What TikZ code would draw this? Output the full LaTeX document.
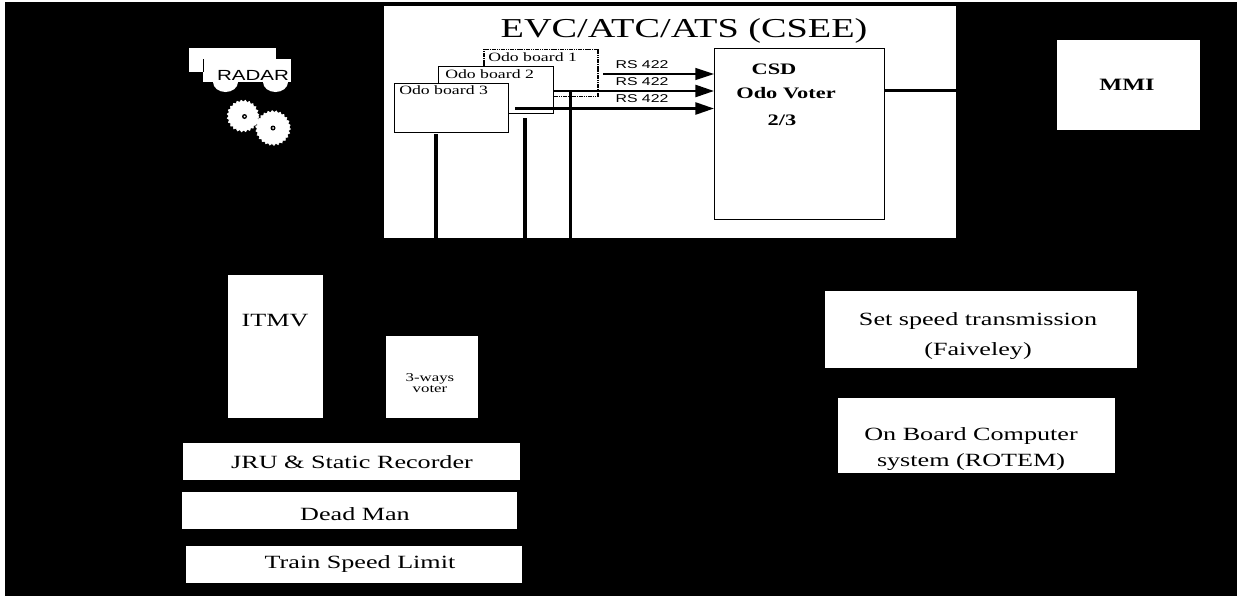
\documentclass[tikz,border=0pt]{standalone}
\usepackage{fontspec}
\setmainfont{Liberation Serif}
\newfontfamily\wideserif[FakeStretch=1.4]{Liberation Serif}
\newfontfamily\widesans[FakeStretch=1.4]{Liberation Sans}
\usetikzlibrary{arrows.meta,decorations.pathmorphing}
\tikzset{
  block/.style={fill=white,draw=none,inner sep=0pt,anchor=north west},
  label/.style={inner sep=0pt,align=center,text=black,font=\wideserif\fontsize{14}{19}\selectfont},
  boardbox/.style={fill=white,draw=black,line width=1pt,inner sep=0pt,anchor=north west},
  boardtext/.style={font=\wideserif\fontsize{9.5}{11}\selectfont,inner sep=0pt,anchor=west,text=black},
  wire/.style={draw=black,line width=2.6pt},
  link/.style={draw=black,line width=1.9pt,-{Triangle[length=14pt,width=9pt]}},
  rs/.style={font=\widesans\fontsize{8.5}{9}\selectfont,inner sep=0pt,text=black},
  voterlabel/.style={inner sep=0pt,align=center,text=black,font=\bfseries\wideserif\fontsize{12}{14}\selectfont},
  gear/.style={fill=white,draw=white,decorate,decoration={zigzag,segment length=3pt,amplitude=0.7pt}},
}
\begin{document}
\begin{tikzpicture}[x=0.75pt,y=-0.75pt]
\useasboundingbox (0,0) rectangle (1237,596);
\fill[white] (0,0) rectangle (1237,596);
\fill[black] (5,2) rectangle (1237,596);
% EVC panel
\node[block,minimum width=572*0.75pt,minimum height=232*0.75pt] (evc) at (384,6) {};
\node[label,font=\wideserif\fontsize{20.5}{24}\selectfont] (evct) at (684,31) {EVC/ATC/ATS (CSEE)};
% boards
\node[boardbox,dash pattern=on 1.2pt off 0.5pt,line width=1.2pt,minimum width=114*0.75pt,minimum height=47*0.75pt] (b1) at (483,48.500) {};
\node[boardtext] (b1t) at (488,57) {Odo board 1};
\node[boardbox,minimum width=115*0.75pt,minimum height=47*0.75pt] (b2) at (438,66) {};
\node[boardtext] (b2t) at (445,74) {Odo board 2};
\node[boardbox,minimum width=114*0.75pt,minimum height=49*0.75pt] (b3) at (394,83) {};
\node[boardtext] (b3t) at (399,90) {Odo board 3};
% CSD
\node[boardbox,line width=1.1pt,minimum width=170*0.75pt,minimum height=171*0.75pt] (csd) at (714,48) {};
\node[voterlabel] (csdt1) at (774,69.500) {CSD};
\node[voterlabel] (csdt2) at (786,93.500) {Odo Voter};
\node[voterlabel] (csdt3) at (782,120) {2/3};
% links to CSD
\coordinate (l1) at (603,74);
\coordinate (l2) at (553,91);
\coordinate (l3) at (515,108.500);
\draw[link,line width=1.1pt] (l1) -- (l1 -| csd.west);
\draw[link] (l2) -- (l2 -| csd.west);
\draw[link] (l3) -- (l3 -| csd.west);
\node[rs] (rs1) at (642,65) {RS 422};
\node[rs] (rs2) at (642,81.500) {RS 422};
\node[rs] (rs3) at (642,99) {RS 422};
% down wires
\coordinate (u3) at (436,134);
\coordinate (u2) at (525,118);
\coordinate (u1) at (570.500,91);
\draw[wire] (u3) -- (u3 |- evc.south);
\draw[wire] (u2) -- (u2 |- evc.south);
\draw[wire] (u1) -- (u1 |- evc.south);
% CSD to right
\coordinate (cr) at (956,90.500);
\draw[draw=black,line width=1.7pt] (csd.east |- cr) -- (cr);
% MMI
\node[block,minimum width=143*0.75pt,minimum height=90*0.75pt] (mmi) at (1057,40) {};
\node[voterlabel,font=\bfseries\wideserif\fontsize{13}{14}\selectfont] (mmit) at (1127,85) {MMI};
% ITMV etc
\node[block,minimum width=95*0.75pt,minimum height=143*0.75pt] (itmvb) at (228,275) {};
\node[label] (itmv) at (275,321) {ITMV};
\node[block,minimum width=92*0.75pt,minimum height=82*0.75pt] (voter) at (386,336) {};
\node[label,font=\wideserif\fontsize{9}{6}\selectfont] (votert) at (430,383) {3-ways\\voter};
\node[block,minimum width=337*0.75pt,minimum height=37*0.75pt] (jru) at (183,443) {};
\node[label] (jrut) at (352,462.500) {JRU \& Static Recorder};
\node[block,minimum width=335*0.75pt,minimum height=37*0.75pt] (dead) at (182,492) {};
\node[label] (deadt) at (355,514) {Dead Man};
\node[block,minimum width=336*0.75pt,minimum height=37*0.75pt] (tsl) at (186,546) {};
\node[label] (tslt) at (360,564) {Train Speed Limit};
% right blocks
\node[block,minimum width=312*0.75pt,minimum height=77*0.75pt] (set) at (825,291) {};
\node[label,font=\wideserif\fontsize{14}{23}\selectfont] (sett) at (978,336) {Set speed transmission\\(Faiveley)};
\node[block,minimum width=277*0.75pt,minimum height=75*0.75pt] (obc) at (838,398) {};
\node[label] (obct) at (971,449) {On Board Computer\\system (ROTEM)};
% radar
\fill[white] (189,48) rectangle (276,72);
\fill[white] (203,59) rectangle (291,82);
\draw[black,line width=0.6pt] (203,59) -- (203,72);
\node[rs,font=\widesans\fontsize{11}{11}\selectfont] (radar) at (253,75) {RADAR};
\fill[white] (213,82) arc[start angle=180,end angle=0,x radius=12.5,y radius=10];
\fill[white] (263,82) arc[start angle=180,end angle=0,x radius=12.5,y radius=10];
\draw[gear] (243,116) circle[radius=15];
\draw[gear] (273,128) circle[radius=16.500];
\fill[white] (256,121) circle[radius=3];
\fill[black] (244.500,116.500) circle[radius=2.5];
\fill[white] (244.500,116.500) circle[radius=1];
\fill[black] (273,128) circle[radius=2.5];
\fill[white] (273,128) circle[radius=1];
\end{tikzpicture}
\end{document}
